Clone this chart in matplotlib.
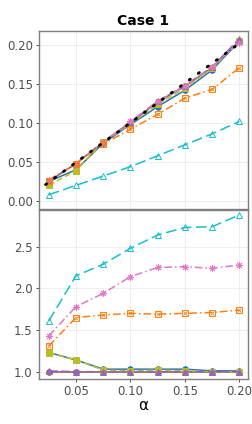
import matplotlib
matplotlib.use('Agg')
import matplotlib.pyplot as plt

# data
alpha = [0.025, 0.05, 0.075, 0.1, 0.125, 0.15, 0.175, 0.2]

size_blue = [0.025, 0.040, 0.074, 0.098, 0.121, 0.142, 0.168, 0.205]
size_olive = [0.020, 0.039, 0.075, 0.099, 0.124, 0.145, 0.170, 0.205]
size_purple = [0.026, 0.048, 0.076, 0.101, 0.128, 0.148, 0.172, 0.208]
size_brown = [0.025, 0.048, 0.075, 0.100, 0.127, 0.147, 0.171, 0.205]
size_pink = [0.027, 0.048, 0.075, 0.102, 0.128, 0.147, 0.172, 0.203]
size_orange = [0.026, 0.048, 0.073, 0.092, 0.111, 0.132, 0.143, 0.171]
size_cyan = [0.008, 0.020, 0.032, 0.044, 0.058, 0.072, 0.086, 0.102]

ratio_cyan = [1.61, 2.15, 2.29, 2.48, 2.64, 2.73, 2.74, 2.88]
ratio_pink = [1.43, 1.78, 1.94, 2.14, 2.25, 2.26, 2.24, 2.28]
ratio_orange = [1.31, 1.65, 1.68, 1.70, 1.69, 1.70, 1.71, 1.74]
ratio_blue = [1.23, 1.14, 1.03, 1.03, 1.03, 1.03, 1.01, 1.01]
ratio_olive = [1.23, 1.14, 1.02, 1.01, 1.02, 1.01, 1.00, 1.00]
ratio_purple = [1.01, 1.00, 1.00, 1.00, 1.00, 1.00, 1.00, 1.00]
ratio_brown = [1.00, 1.00, 1.00, 1.00, 1.00, 1.00, 1.00, 1.00]

# style per series: colour, linestyle, marker, filled
styles = {
    'brown': ('#8c564b', '-', 'o', True),
    'blue': ('#1f77b4', '-', 'o', True),
    'olive': ('#bcbd22', (0, (4, 2)), 's', True),
    'purple': ('#9467bd', (0, (6, 2)), '^', True),
    'pink': ('#e377c2', (0, (5, 2, 1, 2)), (8, 2, 0), False),
    'orange': ('#ff7f0e', (0, (5, 2, 1, 2)), 's', False),
    'cyan': ('#17becf', (0, (7, 3)), '^', False),
}
top = {'brown': size_brown, 'blue': size_blue, 'olive': size_olive, 'purple': size_purple,
       'pink': size_pink, 'orange': size_orange, 'cyan': size_cyan}
bottom = {'brown': ratio_brown, 'blue': ratio_blue, 'olive': ratio_olive, 'purple': ratio_purple,
          'pink': ratio_pink, 'orange': ratio_orange, 'cyan': ratio_cyan}

fig = plt.figure(figsize=(2.52, 4.24), dpi=100)
ax1 = fig.add_axes([39/252, 1 - 209/424, 209/252, 178/424])
ax2 = fig.add_axes([39/252, 1 - 379/424, 209/252, 169/424])


def draw(ax, data):
    for name, vals in data.items():
        c, ls, m, filled = styles[name]
        ms = 4 if m in ('s', 'o') else 5
        ax.plot(alpha, vals, color=c, linestyle=ls, linewidth=1.1, marker=m, markersize=ms,
                markerfacecolor=c if filled else 'none', markeredgecolor=c, markeredgewidth=0.7)
        if name == 'orange':
            # boxed cross marker
            ax.plot(alpha, vals, linestyle='none', marker='x', markersize=2.8,
                    markeredgecolor=c, markeredgewidth=0.6)


draw(ax1, top)
ax1.plot([0.022, 0.201], [0.021, 0.203], color='black', linestyle=(0, (0.5, 3.5)),
         linewidth=2.0, dash_capstyle='round')
draw(ax2, bottom)

for ax in (ax1, ax2):
    ax.set_xlim(0.016, 0.208)
    ax.set_xticks([0.05, 0.10, 0.15, 0.20])
    ax.grid(color='#ebebeb', linewidth=0.6)
    ax.set_axisbelow(True)
    for s in ax.spines.values():
        s.set_color('#7f7f7f')
        s.set_linewidth(1.0)
    ax.tick_params(colors='#333333', labelcolor='#4d4d4d', labelsize=8.5, length=2.5, width=0.6, pad=2)

ax1.set_ylim(-0.0103, 0.218)
ax1.set_yticks([0.0, 0.05, 0.10, 0.15, 0.20])
ax1.set_yticklabels(['0.00', '0.05', '0.10', '0.15', '0.20'])
ax1.tick_params(axis='x', labelbottom=False)
ax1.set_title('Case 1', fontsize=10, fontweight='bold', pad=4)

ax2.set_ylim(0.912, 2.94)
ax2.set_yticks([1.0, 1.5, 2.0, 2.5])
ax2.set_xticklabels(['0.05', '0.10', '0.15', '0.20'])
ax2.set_xlabel('α', fontsize=11, labelpad=0)

fig.savefig('out.png', dpi=100)
